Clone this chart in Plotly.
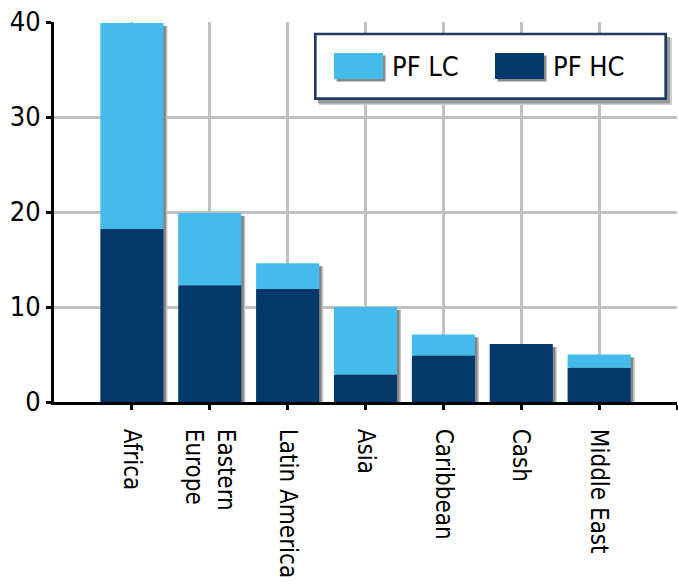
import plotly.graph_objects as go

# Portfolio split by region
regions = ["Africa", "Eastern<br>Europe", "Latin America", "Asia", "Caribbean", "Cash", "Middle East"]
pf_hc = [18.2, 12.3, 11.9, 2.9, 4.9, 6.1, 3.6]
pf_lc = [21.7, 7.6, 2.7, 7.1, 2.2, 0.0, 1.4]
y_ticks = [0, 10, 20, 30, 40]

LC_COLOR = "#45BBEB"
HC_COLOR = "#02386A"
BORDER = "#1E3A66"
FONT = "DejaVu Sans Condensed, DejaVu Sans, sans-serif"

W, H = 678, 585
L, R, T, B = 54, 1, 22, 183
PW, PH = W - L - R, H - T - B

X_RANGE = [-1, len(regions)]
Y_RANGE = [0, 40]

pos = list(range(len(regions)))
totals = [h + l for h, l in zip(pf_hc, pf_lc)]
bar_w = 0.81
ux = (X_RANGE[1] - X_RANGE[0]) / PW   # data units per pixel
uy = (Y_RANGE[1] - Y_RANGE[0]) / PH


def xp(px):
    return (px - L) / PW


def yp(py):
    return (H - B - py) / PH


fig = go.Figure()

# drop shadows behind each column
fig.add_bar(x=[p + 4 * ux for p in pos], y=[t - 3 * uy for t in totals], width=bar_w,
            marker=dict(color="#c4c4c4", line_width=0), showlegend=False, hoverinfo="skip")
fig.add_bar(x=[p + 2.5 * ux for p in pos], y=[t - 3 * uy for t in totals], width=bar_w,
            marker=dict(color="#858585", line_width=0), showlegend=False, hoverinfo="skip")

fig.add_bar(x=pos, y=pf_hc, name="PF HC", width=bar_w,
            marker=dict(color=HC_COLOR, line_width=0), showlegend=False)
fig.add_bar(x=pos, y=pf_lc, base=pf_hc, name="PF LC", width=bar_w,
            marker=dict(color=LC_COLOR, line_width=0), showlegend=False)

# legend box drawn as shapes
shapes = []
shapes.append(dict(type="rect", xref="paper", yref="paper", layer="above",
                   x0=xp(319), x1=xp(672), y0=yp(105), y1=yp(38),
                   fillcolor="#d0d0d0", line_width=0))
shapes.append(dict(type="rect", xref="paper", yref="paper", layer="above",
                   x0=xp(318), x1=xp(670), y0=yp(103.5), y1=yp(37),
                   fillcolor="#9a9a9a", line_width=0))
shapes.append(dict(type="rect", xref="paper", yref="paper", layer="above",
                   x0=xp(315.3), x1=xp(665.7), y0=yp(98.7), y1=yp(34),
                   fillcolor="white", line=dict(color=BORDER, width=2.7)))

legend_items = [("PF LC", LC_COLOR, 334), ("PF HC", HC_COLOR, 495)]
annotations = []
for name, color, x0 in legend_items:
    shapes.append(dict(type="rect", xref="paper", yref="paper", layer="above",
                       x0=xp(x0 + 2.5), x1=xp(x0 + 51.5), y0=yp(81.5), y1=yp(55.5),
                       fillcolor="#8a8a8a", line_width=0))
    shapes.append(dict(type="rect", xref="paper", yref="paper", layer="above",
                       x0=xp(x0), x1=xp(x0 + 49), y0=yp(79), y1=yp(53),
                       fillcolor=color, line_width=0))
    annotations.append(dict(xref="paper", yref="paper", x=xp(x0 + 56), y=yp(66),
                            xanchor="left", yanchor="middle", text=name, showarrow=False,
                            font=dict(family=FONT, size=27, color="black")))

fig.update_layout(
    width=W, height=H,
    margin=dict(l=L, r=R, t=T, b=B, autoexpand=False),
    paper_bgcolor="white", plot_bgcolor="white",
    barmode="overlay",
    showlegend=False,
    shapes=shapes,
    annotations=annotations,
    font=dict(family=FONT, color="black"),
    xaxis=dict(
        range=X_RANGE, tickmode="array",
        tickvals=pos + [len(regions)], ticktext=regions + [""],
        tickangle=90, tickfont=dict(size=24, family=FONT),
        ticks="outside", ticklen=5, tickwidth=3, tickcolor="black",
        ticklabelstandoff=14,
        showline=True, linecolor="black", linewidth=3,
        showgrid=True, gridcolor="#c0c0c0", gridwidth=3,
        zeroline=False, fixedrange=True, automargin=False,
    ),
    yaxis=dict(
        range=Y_RANGE, tickmode="array", tickvals=y_ticks,
        tickfont=dict(size=27, family=FONT),
        ticks="outside", ticklen=5, tickwidth=3, tickcolor="black",
        showline=True, linecolor="black", linewidth=3,
        showgrid=True, gridcolor="#c0c0c0", gridwidth=3,
        zeroline=False, fixedrange=True, automargin=False,
    ),
)

fig.write_html("out.html")
